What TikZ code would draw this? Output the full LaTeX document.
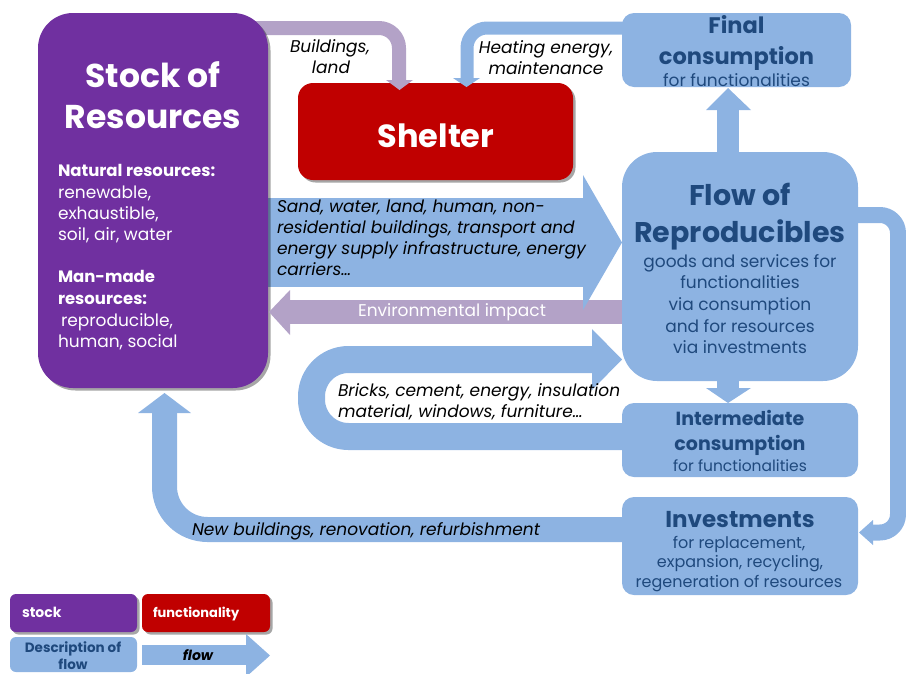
\documentclass[tikz,border=0pt]{standalone}
\usepackage{fontspec}
\setmainfont{Poppins}
\usetikzlibrary{shadows,backgrounds}
\definecolor{cpurple}{HTML}{7030A0}
\definecolor{cred}{HTML}{C00000}
\definecolor{cblue}{HTML}{8DB3E2}
\definecolor{clav}{HTML}{B3A2C7}
\definecolor{cdark}{HTML}{1F497D}
\newcommand\fsz[1]{\fontsize{#1}{#1}\selectfont}
\begin{document}
\begin{tikzpicture}[x=1pt,y=-1pt,
  box/.style={anchor=north west, inner sep=0pt, outer sep=0pt},
  band/.style={line width=#1, line cap=butt, line join=round},
  t/.style={inner sep=0pt, outer sep=0pt, anchor=base},
  tw/.style={inner sep=0pt, outer sep=0pt, anchor=base west},
  shad/.style={drop shadow={shadow xshift=2.5pt, shadow yshift=-2.5pt, opacity=0.35, fill=black}},
]
\useasboundingbox (0,0) rectangle (906,673);
% ---------- boxes
\node[box, shad, fill=cpurple, minimum width=230pt, minimum height=375pt, rounded corners=35pt] (stock) at (38,13) {};
\node[box, shad, fill=cred, minimum width=275pt, minimum height=97pt, rounded corners=15pt] (shelter) at (298,83) {};
\node[box, fill=cblue, minimum width=229pt, minimum height=74pt, rounded corners=12pt] (final) at (622,13) {};
\node[box, fill=cblue, minimum width=236pt, minimum height=229pt, rounded corners=35pt] (flow) at (622,152) {};
\node[box, fill=cblue, minimum width=236pt, minimum height=74pt, rounded corners=12pt] (inter) at (622,403) {};
\node[box, fill=cblue, minimum width=236pt, minimum height=98pt, rounded corners=12pt] (invest) at (622,497) {};
\node[box, shad, fill=cpurple, minimum width=127pt, minimum height=38pt, rounded corners=6pt] (lstock) at (10,594) {};
\node[box, shad, fill=cred, minimum width=128pt, minimum height=38pt, rounded corners=6pt] (lfunc) at (142,594) {};
\node[box, fill=cblue, minimum width=127pt, minimum height=35pt, rounded corners=6pt] (ldesc) at (10,637) {};
% ---------- coordinates
\coordinate (ax) at (728,0);
\coordinate (b3) at (399,81);
\coordinate (h3) at (467,79);
\coordinate (u1) at (728,109);
\coordinate (g1) at (584,242.5);
\coordinate (e1) at (289,312);
\coordinate (k1) at (311.5,436.5);
\coordinate (k2) at (311.5,359.5);
\coordinate (k3) at (593,359.5);
\coordinate (d1) at (728,389);
\coordinate (r1) at (898,215);
\coordinate (r2) at (898,532.5);
\coordinate (r3) at (872,532.5);
\coordinate (n1) at (164.5,529.5);
\coordinate (n2) at (164.5,412);
\coordinate (lf0) at (142,655);
\coordinate (lf1) at (247,655);
% ---------- bands (behind boxes)
\begin{pgfonlayer}{background}
\draw[band=14pt, clav, rounded corners=20pt] ([shift={(-18,15)}]stock.north east) -| (b3);
\draw[band=13pt, cblue, rounded corners=20pt] ([shift={(5,-22)}]final.west) -| (h3);
\draw[band=22pt, cblue] (flow.north -| ax) -- (u1);
\draw[band=24pt, clav] ([shift={(2,45.5)}]flow.west) -- (e1);
\draw[band=89pt, cblue] ([shift={(-2,42)}]stock.east) -- (g1);
\draw[band=27pt, cblue, rounded corners=37pt] ([shift={(2,-3.5)}]inter.west) -- (k1) -- (k2) -- (k3);
\draw[band=22pt, cblue] (flow.south -| ax) -- (d1);
\draw[band=16pt, cblue, rounded corners=18pt] ([shift={(-5,-51.5)}]flow.east) -- (r1) -- (r2) -- (r3);
\draw[band=25pt, cblue, rounded corners=43pt] ([shift={(5,-16.5)}]invest.west) -- (n1) -- (n2);
\draw[band=20pt, cblue] (lf0) -- (lf1);
\end{pgfonlayer}
% ---------- heads
\fill[clav] (386,80) -- (413,80) -- (399.5,90) -- cycle;
\fill[cblue] (453,78) -- (480,78) -- (466.5,87) -- cycle;
\fill[cblue] (706,110) -- (751,110) -- (728,88) -- cycle;
\fill[cblue] (583,175) -- (583,310) -- (622,242.5) -- cycle;
\fill[clav] (290,290) -- (290,335) -- (269,312) -- cycle;
\fill[cblue] (592,329) -- (592,390) -- (622,359.5) -- cycle;
\fill[cblue] (706,388) -- (751,388) -- (728,403) -- cycle;
\fill[cblue] (873,520) -- (873,545) -- (859,532.5) -- cycle;
\fill[cblue] (138,413) -- (191,413) -- (164.5,393) -- cycle;
\fill[cblue] (246,634) -- (246,677) -- (270,655.5) -- cycle;
% ---------- texts: stock
\begin{scope}[white]
\node[t, font=\fsz{33}\bfseries] (st1) at (153,87) {Stock of};
\node[t, font=\fsz{33}\bfseries] (st2) at (153,128) {Resources};
\node[tw, font=\fsz{16.5}\bfseries] (sb1) at (58,176) {Natural resources:};
\node[tw, font=\fsz{17}] (sb2) at (58,198) {renewable,};
\node[tw, font=\fsz{17}] (sb3) at (58,219) {exhaustible,};
\node[tw, font=\fsz{17}] (sb4) at (58,240) {soil, air, water};
\node[tw, font=\fsz{16.5}\bfseries] (sb5) at (58,282) {Man-made};
\node[tw, font=\fsz{16.5}\bfseries] (sb6) at (58,304) {resources:};
\node[tw, font=\fsz{17}] (sb7) at (61,326) {reproducible,};
\node[tw, font=\fsz{17}] (sb8) at (58,347) {human, social};
\node[t, font=\fsz{32}\bfseries] (sh) at (436,147) {Shelter};
\node[t, font=\fsz{17}] (env) at (452,316) {Environmental impact};
\node[tw, font=\fsz{14}\bfseries] (lt1) at (22,617) {stock};
\node[tw, font=\fsz{13}\bfseries] (lt2) at (153,617) {functionality};
\end{scope}
% ---------- flow labels
\begin{scope}[black]
\node[t, font=\fsz{17}\itshape] (bl1) at (330,52) {Buildings,};
\node[t, font=\fsz{17}\itshape] (bl2) at (331,73) {land};
\node[t, font=\fsz{17}\itshape] (he1) at (546,53) {Heating energy,};
\node[t, font=\fsz{17}\itshape] (he2) at (546,74) {maintenance};
\node[tw, font=\fsz{17}\itshape] (sa1) at (277,212) {Sand, water, land, human, non-};
\node[tw, font=\fsz{17}\itshape] (sa2) at (277,233) {residential buildings, transport and};
\node[tw, font=\fsz{17}\itshape] (sa3) at (277,254) {energy supply infrastructure, energy};
\node[tw, font=\fsz{17}\itshape] (sa4) at (277,275) {carriers…};
\node[tw, font=\fsz{17}\itshape] (br1) at (338,396) {Bricks, cement, energy, insulation};
\node[tw, font=\fsz{17}\itshape] (br2) at (338,417) {material, windows, furniture…};
\node[tw, font=\fsz{17}\itshape] (nb) at (192,535) {New buildings, renovation, refurbishment};
\node[t, font=\fsz{14}\bfseries\itshape] (lt5) at (198,660) {flow};
\end{scope}
% ---------- blue boxes text
\begin{scope}[cdark]
\node[t, font=\fsz{22.5}\bfseries] (f1) at (736.5,33) {Final};
\node[t, font=\fsz{22.5}\bfseries] (f2) at (736.5,64) {consumption};
\node[t, font=\fsz{17}] (f3) at (736.5,86) {for functionalities};
\node[t, font=\fsz{28.5}\bfseries] (r1t) at (740,205) {Flow of};
\node[t, font=\fsz{28.5}\bfseries] (r2t) at (740,242) {Reproducibles};
\node[t, font=\fsz{17}] (r3t) at (740,267) {goods and services for};
\node[t, font=\fsz{17}] (r4t) at (740,288) {functionalities};
\node[t, font=\fsz{17}] (r5t) at (740,310) {via consumption};
\node[t, font=\fsz{17}] (r6t) at (740,332) {and for resources};
\node[t, font=\fsz{17}] (r7t) at (740,353) {via investments};
\node[t, font=\fsz{19}\bfseries] (i1) at (740,425) {Intermediate};
\node[t, font=\fsz{19}\bfseries] (i2) at (740,450) {consumption};
\node[t, font=\fsz{15.5}] (i3) at (740,471) {for functionalities};
\node[t, font=\fsz{23}\bfseries] (v1) at (740,527) {Investments};
\node[t, font=\fsz{16}] (v2) at (739,548) {for replacement,};
\node[t, font=\fsz{16}] (v3) at (740,567) {expansion, recycling,};
\node[t, font=\fsz{16}] (v4) at (739,587) {regeneration of resources};
\node[t, font=\fsz{13.5}\bfseries] (lt3) at (73,652) {Description of};
\node[t, font=\fsz{13.5}\bfseries] (lt4) at (73,669) {flow};
\end{scope}
\end{tikzpicture}
\end{document}
